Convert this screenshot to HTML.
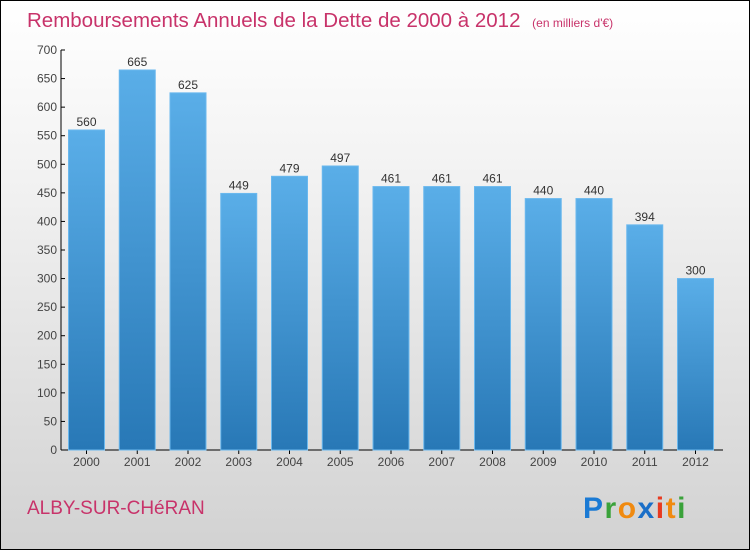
<!DOCTYPE html>
<html><head><meta charset="utf-8"><style>
body{margin:0;}
#wrap{position:relative;width:748px;height:548px;border:1px solid #000;background:linear-gradient(#fff,#f3f3f3 30%,#d2d2d2);font-family:"Liberation Sans",sans-serif;overflow:hidden}
</style></head><body>
<div id="wrap">
<svg id="chart" width="748" height="548">
<defs><linearGradient id="bg" x1="0" y1="0" x2="0" y2="1"><stop offset="0" stop-color="#5aaee8"/><stop offset="1" stop-color="#2878b6"/></linearGradient></defs>
<text x="26" y="26" font-size="20.5" fill="#c8336a">Remboursements Annuels de la Dette de 2000 à 2012 <tspan font-size="12" dx="6">(en milliers d'€)</tspan></text>
<text x="26" y="513" font-size="19" fill="#c8336a">ALBY-SUR-CHéRAN</text>
<g font-size="30" font-weight="bold">
<text x="582" y="517" letter-spacing="1.5"><tspan fill="#1a7ad4">P</tspan><tspan fill="#3aa23a">r</tspan><tspan fill="#f08a10">o</tspan><tspan fill="#1a6fc8">x</tspan><tspan fill="#e83a20">i</tspan><tspan fill="#f08a10">t</tspan><tspan fill="#3aa23a">i</tspan></text></g>
<g id="axes"></g><g id="bars"></g>
</svg></div>
<script>
const years=["2000","2001","2002","2003","2004","2005","2006","2007","2008","2009","2010","2011","2012"];
const values=[560,665,625,449,479,497,461,461,461,440,440,394,300];
const yTicks=[0,50,100,150,200,250,300,350,400,450,500,550,600,650,700];
const NS="http://www.w3.org/2000/svg";
const y0=449,yTop=49,yMax=700,xL=60,x0=85.5,step=50.75,bw=36;
const y=v=>y0-(v/yMax)*(y0-yTop);
const x=i=>x0+i*step;
function mk(t,a,p){const e=document.createElementNS(NS,t);for(const k in a)e.setAttribute(k,a[k]);p.appendChild(e);return e;}
const ax=document.getElementById('axes'),bs=document.getElementById('bars');
let l=mk('line',{x1:xL,y1:yTop,x2:xL,y2:y0,stroke:'#000'},ax);


l=mk('line',{x1:xL,y1:y0,x2:722,y2:y0,stroke:'#000'},ax);


yTicks.forEach(v=>{
 mk('line',{x1:xL,y1:y(v),x2:xL+4,y2:y(v),stroke:'#000'},ax);
 const t=mk('text',{x:xL-4,y:y(v)+4,'text-anchor':'end','font-size':12,fill:'#444'},ax);t.textContent=v;
 
 
});
years.forEach((yr,i)=>{
 const v=values[i];
 const r=mk('rect',{x:x(i)-bw/2,y:y(v),width:bw,height:y0-y(v),fill:'url(#bg)',stroke:'#6ab8ee','stroke-width':1},bs);
 
 
 const t=mk('text',{x:x(i),y:y(v)-4,'text-anchor':'middle','font-size':12,fill:'#333'},bs);t.textContent=v;
 
 
 mk('line',{x1:x(i),y1:y0,x2:x(i),y2:y0+4,stroke:'#000'},ax);
 const xl=mk('text',{x:x(i),y:y0+16,'text-anchor':'middle','font-size':12,fill:'#444'},ax);xl.textContent=yr;
 
 
});
</script>
</body></html>
